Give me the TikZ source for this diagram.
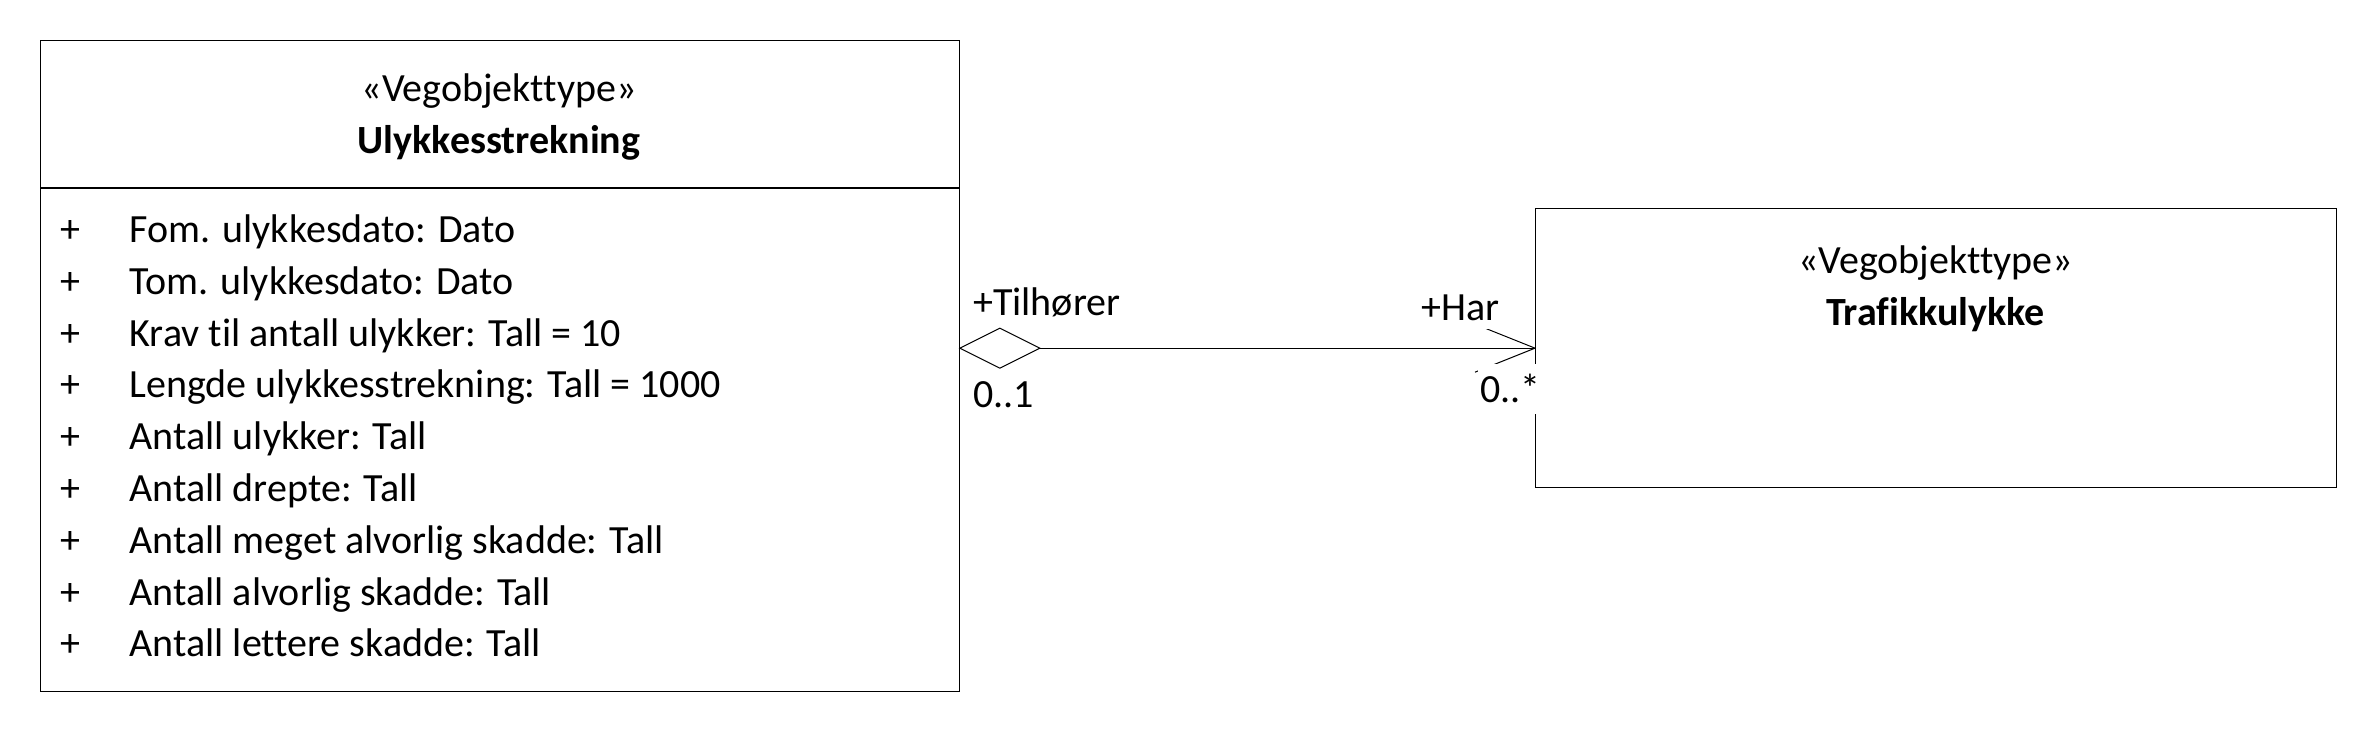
\documentclass[tikz,border=0pt]{standalone}
\usepackage{fontspec}
\setmainfont{Carlito}[Ligatures=NoCommon]
\begin{document}
\begin{tikzpicture}[x=1pt,y=-1pt,
  font=\fontsize{40}{48}\selectfont,
  classbox/.style={draw, line width=1.3pt, inner sep=0pt, anchor=north west},
  txt/.style={inner sep=0pt},
  conn/.style={line width=1pt},
  rolelabel/.style={inner xsep=2pt, inner ysep=0pt, fill=white}]
\fill[white] (0,0) rectangle (2376,732);
\useasboundingbox (0,0) rectangle (2376,732);
% Left class
\node[classbox, minimum width=918.5pt, minimum height=651pt] (A) at (40,40) {};
\coordinate (divL) at (40,188);
\coordinate (divR) at (958.5,188);
\draw[line width=1.3pt] (divL) -- (divR);
\node[txt, anchor=base] (As) at (499,101.5) {«Vegobjekttype»};
\node[txt, anchor=base] (An) at (499,153.3) {\bfseries Ulykkesstrekning};
\foreach \t [count=\i from 0] in {Fom. ulykkesdato: Dato, Tom. ulykkesdato: Dato, Krav til antall ulykker: Tall = 10, Lengde ulykkesstrekning: Tall = 1000, Antall ulykker: Tall, Antall drepte: Tall, Antall meget alvorlig skadde: Tall, Antall alvorlig skadde: Tall, Antall lettere skadde: Tall}{
  \node[txt, anchor=base] (p\i) at (70,242.5+51.8*\i) {+};
  \node[txt, anchor=base west] (a\i) at (129.5,242.5+51.8*\i) {\t};
}
% Right class
\node[classbox, minimum width=801pt, minimum height=279pt] (B) at (1535,208) {};
\node[txt, anchor=base] (Bs) at (1935.5,273) {«Vegobjekttype»};
\node[txt, anchor=base] (Bn) at (1935.5,325) {\bfseries Trafikkulykke};
% Association
\coordinate (d0) at (A.east |- B.west);
\coordinate (d1) at ([xshift=80pt]d0);
\draw[conn] (d0) -- ++(40,-20) -- (d1) -- ++(-40,20) -- cycle;
\draw[conn] (d1) -- (B.west);
\draw[conn] (B.west) -- ++(-60,-24);
\draw[conn] (B.west) -- ++(-60,24);
% Labels
\node[txt, anchor=base west] (lt) at (973,315) {+Tilhører};
\node[txt, anchor=base west] (lm) at (973,407) {0..1};
\node[rolelabel, anchor=base west, text height=28pt, text depth=9pt] (rt) at (1419.7,320) {+Har};
\node[rolelabel, anchor=base west, text height=38.7pt, text depth=11.3pt] (rm) at (1478,402.5) {0..*};
\end{tikzpicture}
\end{document}
